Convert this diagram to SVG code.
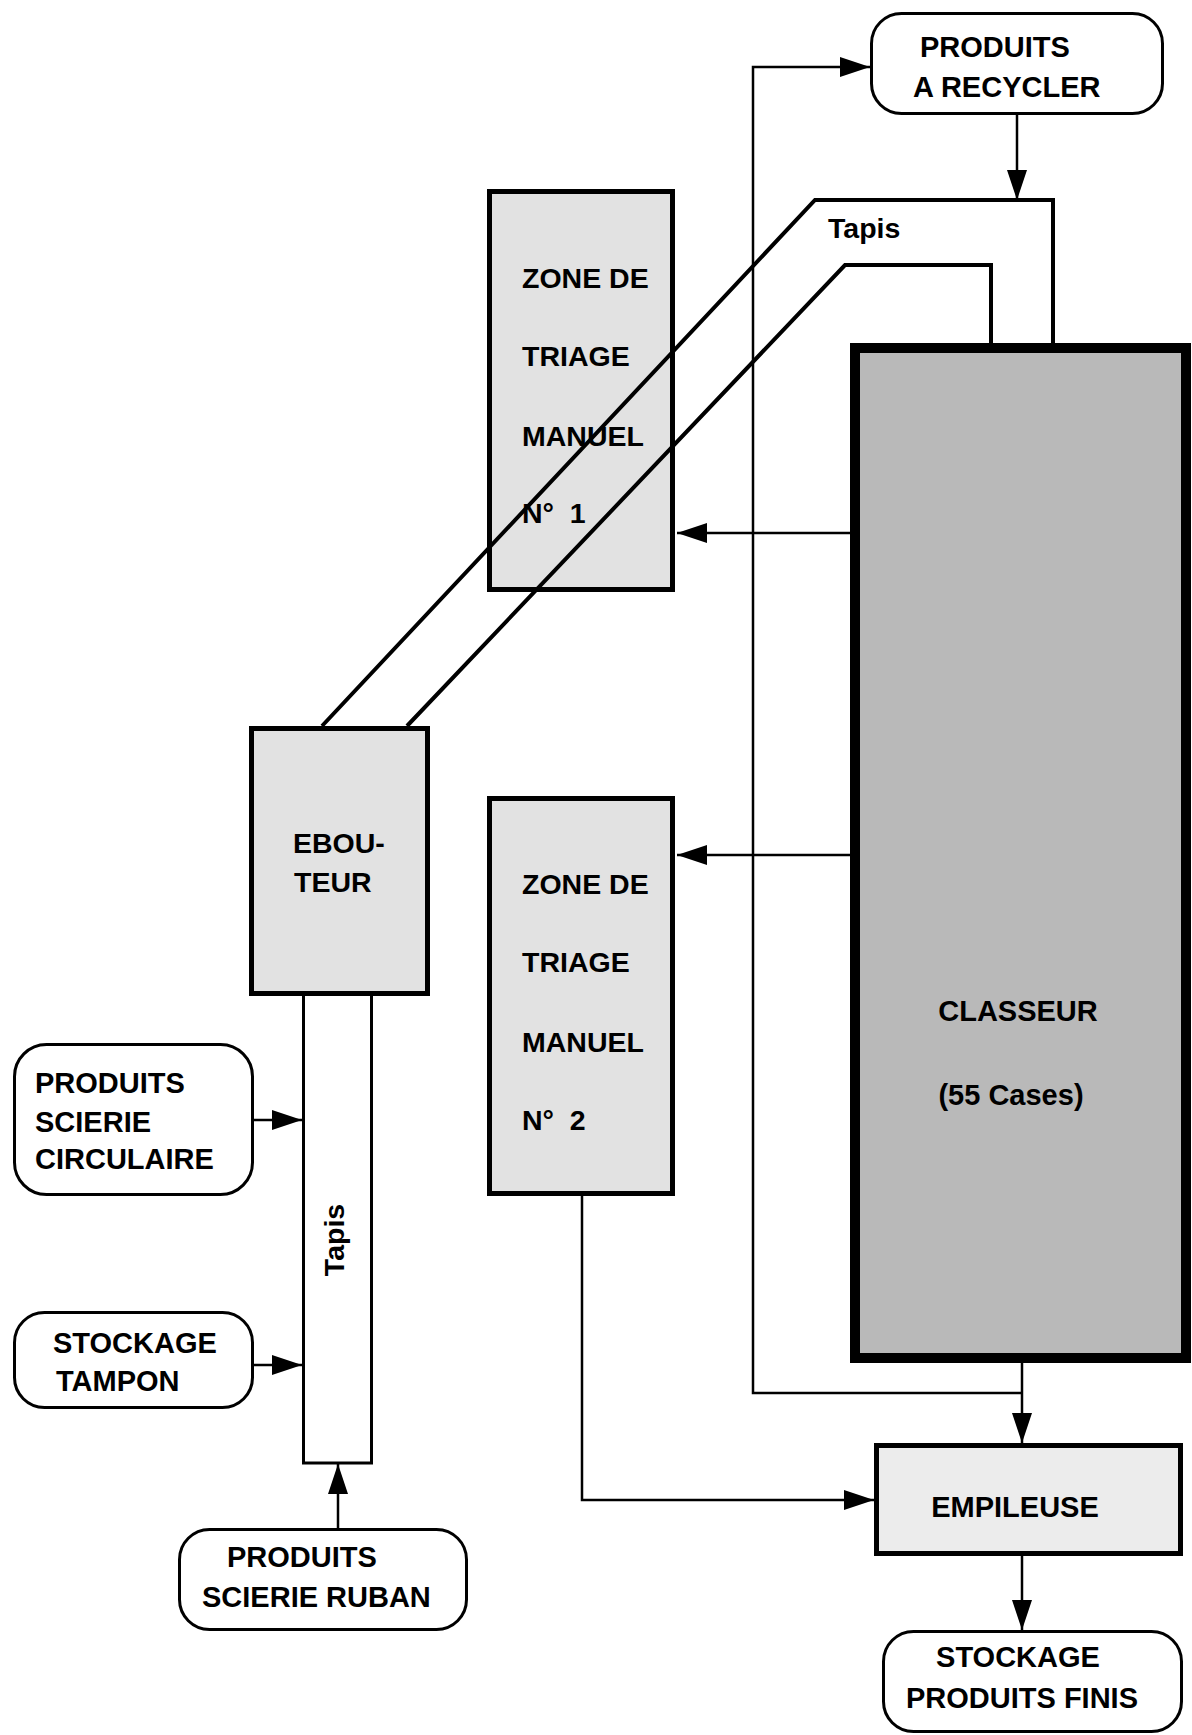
<svg xmlns="http://www.w3.org/2000/svg" width="1192" height="1735" viewBox="0 0 1192 1735">
<defs>
<marker id="arr" markerUnits="userSpaceOnUse" markerWidth="30" markerHeight="20" refX="30" refY="10" orient="auto">
<path d="M0,0 L30,10 L0,20 Z" fill="#000"/>
</marker>
<style>
text{font-family:"Liberation Sans",Arial,sans-serif;font-weight:bold;fill:#000;white-space:pre}
.t29{font-size:29px}
.t28{font-size:28.5px}
.mid{text-anchor:middle}
.rbox{fill:#fff;stroke:#000;stroke-width:3}
.zone{fill:#e2e2e2;stroke:#000;stroke-width:5}
.conv{fill:none;stroke:#000;stroke-width:4;stroke-linejoin:miter}
.link{fill:none;stroke:#000;stroke-width:2.5}
</style>
</defs>
<rect width="1192" height="1735" fill="#fff"/>

<g id="classeur">
<rect x="855" y="348" width="331" height="1010" fill="#b9b9b9" stroke="#000" stroke-width="10"/>
<text class="t29 mid" x="1018" y="1021">CLASSEUR</text>
<text class="t29 mid" x="1011" y="1105">(55 Cases)</text>
</g>

<g id="zone1">
<rect class="zone" x="489.5" y="191.5" width="183" height="398"/>
<text class="t28" x="522" y="288">ZONE DE</text>
<text class="t28" x="522" y="366">TRIAGE</text>
<text class="t28" x="522" y="446">MANUEL</text>
<text class="t28" x="522" y="523">N°  1</text>
</g>

<g id="zone2">
<rect class="zone" x="489.5" y="798.5" width="183" height="395"/>
<text class="t28" x="522" y="894">ZONE DE</text>
<text class="t28" x="522" y="972">TRIAGE</text>
<text class="t28" x="522" y="1052">MANUEL</text>
<text class="t28" x="522" y="1130">N°  2</text>
</g>

<g id="tapis-vertical">
<rect x="303.5" y="990" width="68" height="473" fill="#fff" stroke="#000" stroke-width="3"/>
<text class="t28 mid" transform="translate(344,1240) rotate(-90)">Tapis</text>
</g>

<g id="ebouteur">
<rect class="zone" x="251.5" y="728.5" width="176" height="265"/>
<text class="t28" x="293" y="853">EBOU-</text>
<text class="t28" x="294" y="892">TEUR</text>
</g>

<g id="tapis-haut">
<polyline class="conv" points="322,726 815,200 1053,200 1053,345"/>
<polyline class="conv" points="407,726 845,265 991,265 991,345"/>
<text class="t28" x="828" y="238">Tapis</text>
</g>

<g id="produits-recycler">
<rect class="rbox" x="871.5" y="13.5" width="291" height="100" rx="30"/>
<text class="t29" x="920" y="57">PRODUITS</text>
<text class="t29" x="913" y="97">A RECYCLER</text>
</g>

<g id="scierie-circulaire">
<rect class="rbox" x="14.5" y="1044.5" width="238" height="150" rx="32"/>
<text class="t29" x="35" y="1093">PRODUITS</text>
<text class="t29" x="35" y="1132">SCIERIE</text>
<text class="t29" x="35" y="1169">CIRCULAIRE</text>
</g>

<g id="stockage-tampon">
<rect class="rbox" x="14.5" y="1312.5" width="238" height="95" rx="30"/>
<text class="t29" x="53" y="1353">STOCKAGE</text>
<text class="t29" x="56" y="1391">TAMPON</text>
</g>

<g id="scierie-ruban">
<rect class="rbox" x="179.5" y="1529.5" width="287" height="100" rx="30"/>
<text class="t29" x="227" y="1567">PRODUITS</text>
<text class="t29" x="202" y="1607">SCIERIE RUBAN</text>
</g>

<g id="empileuse">
<rect x="876.5" y="1445.5" width="304" height="108" fill="#ececec" stroke="#000" stroke-width="5"/>
<text class="t29 mid" x="1015" y="1517">EMPILEUSE</text>
</g>

<g id="stockage-finis">
<rect class="rbox" x="883.5" y="1631.5" width="298" height="100" rx="30"/>
<text class="t29 mid" x="1018" y="1667">STOCKAGE</text>
<text class="t29 mid" x="1022" y="1708">PRODUITS FINIS</text>
</g>

<g id="connectors">
<path class="link" d="M850,533 H677" marker-end="url(#arr)"/>
<path class="link" d="M850,855 H677" marker-end="url(#arr)"/>
<path class="link" d="M1022,1363 V1443" marker-end="url(#arr)"/>
<path class="link" d="M1022,1393 H753 V67 H870" marker-end="url(#arr)"/>
<path class="link" d="M1017,115 V200" marker-end="url(#arr)"/>
<path class="link" d="M582,1196 V1500 H874" marker-end="url(#arr)"/>
<path class="link" d="M1022,1556 V1630" marker-end="url(#arr)"/>
<path class="link" d="M254,1120 H302" marker-end="url(#arr)"/>
<path class="link" d="M254,1365 H302" marker-end="url(#arr)"/>
<path class="link" d="M338,1528 V1464" marker-end="url(#arr)"/>
</g>
</svg>
